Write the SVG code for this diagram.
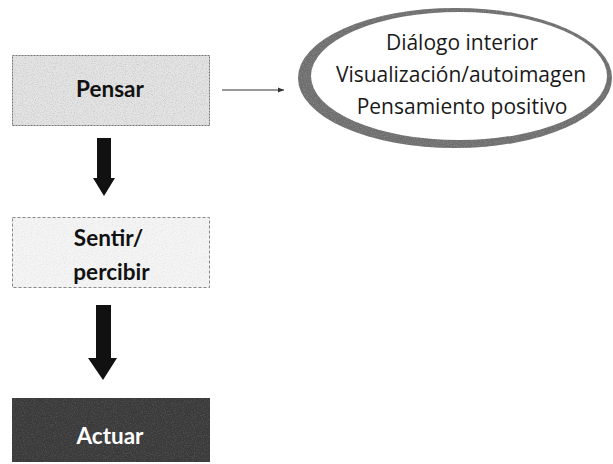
<svg xmlns="http://www.w3.org/2000/svg" width="613" height="464" viewBox="0 0 613 464">
<style>
.lbl{font-family:Lato,"Open Sans","Liberation Sans",sans-serif;font-weight:bold;font-size:22.5px;text-anchor:middle}
.ell{font-family:"Open Sans","Noto Sans","Liberation Sans",sans-serif;font-size:21px;text-anchor:middle;fill:#1a1a1a}
.thick{fill:#111}
</style>
<defs>
<filter id="grain" x="0" y="0" width="100%" height="100%">
<feTurbulence type="fractalNoise" baseFrequency="0.9" numOctaves="2" seed="3" result="n"/>
<feColorMatrix in="n" type="matrix" values="0 0 0 0 0  0 0 0 0 0  0 0 0 0 0  0 0 0 -2.2 1.25" result="a"/>
<feComposite in="SourceGraphic" in2="a" operator="in"/>
</filter>
<marker id="ah" viewBox="0 0 10 10" refX="10" refY="5" markerWidth="6" markerHeight="6" orient="auto">
<path d="M0,1 L10,5 L0,9 Z" fill="#333"/>
</marker>
</defs>
<rect width="613" height="464" fill="#fff"/>
<g id="pensar">
<rect x="12" y="55" width="198" height="71" fill="#e4e4e4"/>
<rect x="12" y="55" width="198" height="71" fill="#b5b5b5" filter="url(#grain)" opacity="0.6"/>
<rect x="12.5" y="55.5" width="197" height="70" fill="none" stroke="#777" stroke-width="1" stroke-dasharray="2 1"/>
<text class="lbl" x="110" y="97" fill="#111">Pensar</text>
</g>
<g id="sentir">
<rect x="12" y="217" width="198" height="71" fill="#f5f5f5"/>
<rect x="12" y="217" width="198" height="71" fill="#c8c8c8" filter="url(#grain)" opacity="0.35"/>
<rect x="12.5" y="217.5" width="197" height="70" fill="none" stroke="#888" stroke-width="1" stroke-dasharray="3 2"/>
<text class="lbl" x="108.5" y="246" fill="#111">Sentir/</text>
<text class="lbl" x="111.5" y="280" fill="#111">percibir</text>
</g>
<g id="actuar">
<rect x="12" y="398" width="198" height="64" fill="#3a3a3a"/>
<rect x="12" y="398" width="198" height="64" fill="#666" filter="url(#grain)" opacity="0.6"/>
<text class="lbl" x="110" y="444" fill="#fff">Actuar</text>
</g>
<g id="ideas">
<ellipse cx="455" cy="78" rx="157" ry="70" fill="#6e6e6e"/>
<ellipse cx="455" cy="78" rx="157" ry="70" fill="#aaa" filter="url(#grain)" opacity="0.5"/>
<ellipse cx="459" cy="76" rx="148" ry="64" fill="#fff"/>
<text class="ell" x="462" y="50">Diálogo interior</text>
<text class="ell" x="461" y="82">Visualización/autoimagen</text>
<text class="ell" x="462" y="114">Pensamiento positivo</text>
</g>
<g id="connectors">
<line x1="222" y1="90" x2="284" y2="90" stroke="#333" stroke-width="1" marker-end="url(#ah)"/>
<polygon class="thick" points="97,138 111,138 111,178 115,178 104,196 93,178 97,178"/>
<polygon class="thick" points="96,305 111,305 111,358 117,358 103,380 88,358 96,358"/>
</g>
</svg>
